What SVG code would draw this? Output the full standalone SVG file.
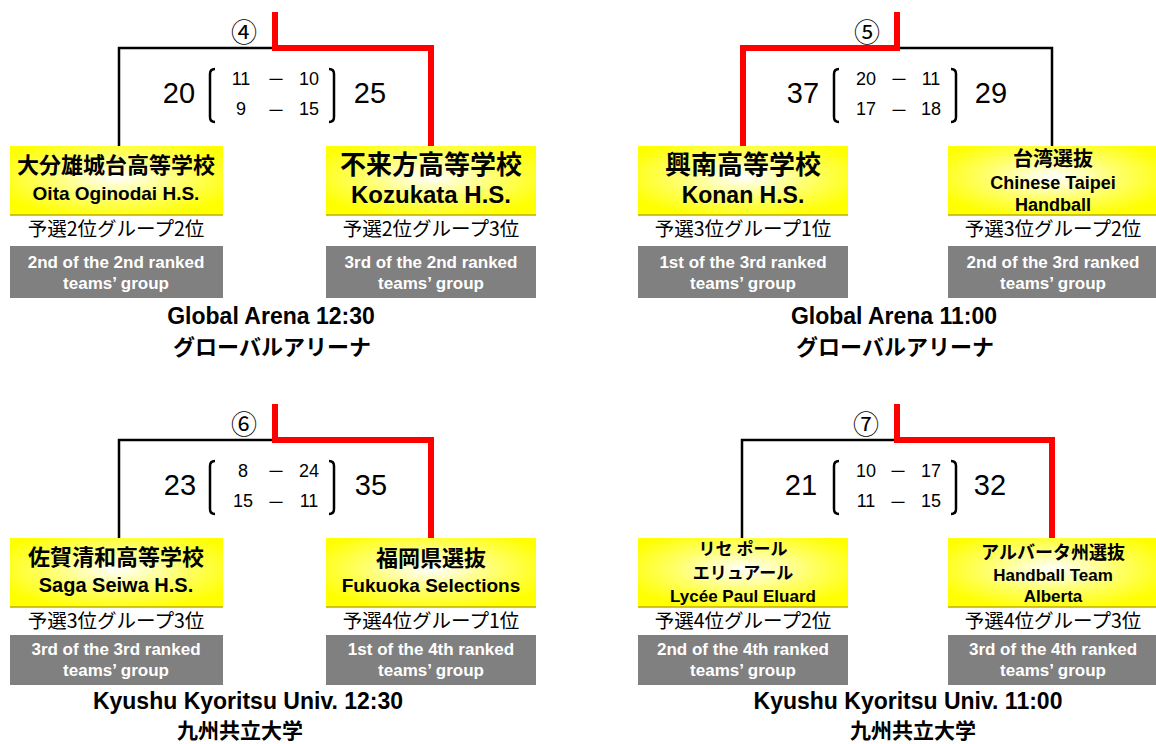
<svg xmlns="http://www.w3.org/2000/svg" width="1156" height="744" viewBox="0 0 1156 744">
<defs>
<radialGradient id="yg" cx="0.5" cy="0.45" r="0.6">
<stop offset="0" stop-color="#ffffff"/>
<stop offset="0.55" stop-color="#ffff66"/>
<stop offset="1" stop-color="#ffff00"/>
</radialGradient>
<style>
.yb{fill:url(#yg)}
.yl{stroke:#bfae00;stroke-width:1.5}
.gb{fill:#808080}
.jp{font-family:"Noto Sans CJK JP",sans-serif;font-weight:bold;text-anchor:middle;fill:#000}
.en{font-family:"Liberation Sans","Noto Sans CJK JP",sans-serif;font-weight:bold;text-anchor:middle;fill:#000}
.rk{font-family:"Noto Sans CJK JP",sans-serif;font-size:19.5px;text-anchor:middle;fill:#000}
.gt{font-family:"Liberation Sans",sans-serif;font-weight:bold;font-size:17px;fill:#fff;text-anchor:middle}
.bk{stroke:#000;stroke-width:2.5;fill:none}
.rd{stroke:#ff0000;stroke-width:6;fill:none}
.br{stroke:#000;stroke-width:2.5;fill:none}
.big{font-family:"Liberation Sans",sans-serif;font-size:29px;text-anchor:middle;fill:#000}
.sm{font-family:"Liberation Sans",sans-serif;font-size:18px;text-anchor:middle;fill:#000}
.ds{font-family:"Noto Sans CJK JP",sans-serif;font-size:18px;text-anchor:middle;fill:#000}
.cn{font-family:"Noto Sans CJK JP",sans-serif;font-size:26px;text-anchor:middle;fill:#000}
.vn{text-anchor:middle;fill:#000;font-weight:bold}
.v1{font-family:"Liberation Sans","Noto Sans CJK JP",sans-serif;font-size:23px}
.v2{font-family:"Noto Sans CJK JP",sans-serif;font-size:22px}
.v3{font-family:"Noto Sans CJK JP",sans-serif;font-size:21px}
</style>
</defs>
<rect width="1156" height="744" fill="#fff"/>

<g id="connectors">
<path class="bk" d="M119,146 V48 H273"/>
<path class="rd" d="M275,12 V48 H431 V146"/>
<path class="bk" d="M899,48 H1052 V146"/>
<path class="rd" d="M897,12 V48 H743 V146"/>
<path class="bk" d="M119,538 V440 H273"/>
<path class="rd" d="M275,404 V440 H431 V538"/>
<path class="bk" d="M742,538 V440 H895"/>
<path class="rd" d="M897,404 V440 H1052 V538"/>
</g>

<g id="match4">
<text class="cn" x="244" y="42">④</text>
<text class="big" x="179" y="103">20</text>
<path class="br" d="M215,69 Q210,69 210,74 V117 Q210,122 215,122"/>
<text class="sm" x="241" y="85">11</text><text class="ds" x="276" y="86">－</text><text class="sm" x="309" y="85">10</text>
<text class="sm" x="241" y="115">9</text><text class="ds" x="276" y="117">－</text><text class="sm" x="309" y="115">15</text>
<path class="br" d="M329,69 Q334,69 334,74 V117 Q334,122 329,122"/>
<text class="big" x="370" y="103">25</text>
</g>

<g id="match5">
<text class="cn" x="867" y="42">⑤</text>
<text class="big" x="803" y="103">37</text>
<path class="br" d="M839,69 Q834,69 834,74 V117 Q834,122 839,122"/>
<text class="sm" x="866" y="85">20</text><text class="ds" x="899" y="86">－</text><text class="sm" x="931" y="85">11</text>
<text class="sm" x="866" y="115">17</text><text class="ds" x="899" y="117">－</text><text class="sm" x="931" y="115">18</text>
<path class="br" d="M951,69 Q956,69 956,74 V117 Q956,122 951,122"/>
<text class="big" x="991" y="103">29</text>
</g>

<g id="match6">
<text class="cn" x="244" y="434">⑥</text>
<text class="big" x="180" y="495">23</text>
<path class="br" d="M215,461 Q210,461 210,466 V509 Q210,514 215,514"/>
<text class="sm" x="243" y="477">8</text><text class="ds" x="276" y="478">－</text><text class="sm" x="309" y="477">24</text>
<text class="sm" x="243" y="507">15</text><text class="ds" x="276" y="509">－</text><text class="sm" x="309" y="507">11</text>
<path class="br" d="M329,461 Q334,461 334,466 V509 Q334,514 329,514"/>
<text class="big" x="371" y="495">35</text>
</g>

<g id="match7">
<text class="cn" x="866" y="434">⑦</text>
<text class="big" x="801" y="495">21</text>
<path class="br" d="M839,461 Q834,461 834,466 V509 Q834,514 839,514"/>
<text class="sm" x="866" y="477">10</text><text class="ds" x="898" y="478">－</text><text class="sm" x="931" y="477">17</text>
<text class="sm" x="866" y="507">11</text><text class="ds" x="898" y="509">－</text><text class="sm" x="931" y="507">15</text>
<path class="br" d="M951,461 Q956,461 956,466 V509 Q956,514 951,514"/>
<text class="big" x="990" y="495">32</text>
</g>

<g id="team-oita">
<rect class="yb" x="10" y="146" width="213" height="69"/>
<line class="yl" x1="10" y1="215" x2="223" y2="215"/>
<text class="jp" x="116" y="173" font-size="22">大分雄城台高等学校</text>
<text class="en" x="116" y="200" font-size="19">Oita Oginodai H.S.</text>
<text class="rk" x="116" y="236">予選2位グループ2位</text>
<rect class="gb" x="10" y="246" width="213" height="52"/>
<text class="gt" x="116" y="268">2nd of the 2nd ranked</text>
<text class="gt" x="116" y="289">teams’ group</text>
</g>

<g id="team-kozukata">
<rect class="yb" x="326" y="146" width="210" height="69"/>
<line class="yl" x1="326" y1="215" x2="536" y2="215"/>
<text class="jp" x="431" y="174" font-size="26">不来方高等学校</text>
<text class="en" x="431" y="203" font-size="24">Kozukata H.S.</text>
<text class="rk" x="431" y="236">予選2位グループ3位</text>
<rect class="gb" x="326" y="246" width="210" height="52"/>
<text class="gt" x="431" y="268">3rd of the 2nd ranked</text>
<text class="gt" x="431" y="289">teams’ group</text>
</g>

<g id="team-konan">
<rect class="yb" x="638" y="146" width="210" height="69"/>
<line class="yl" x1="638" y1="215" x2="848" y2="215"/>
<text class="jp" x="743" y="174" font-size="26">興南高等学校</text>
<text class="en" x="743" y="203" font-size="23">Konan H.S.</text>
<text class="rk" x="743" y="236">予選3位グループ1位</text>
<rect class="gb" x="638" y="246" width="210" height="52"/>
<text class="gt" x="743" y="268">1st of the 3rd ranked</text>
<text class="gt" x="743" y="289">teams’ group</text>
</g>

<g id="team-taipei">
<rect class="yb" x="948" y="146" width="208" height="69"/>
<line class="yl" x1="948" y1="215" x2="1156" y2="215"/>
<text class="jp" x="1053" y="166" font-size="20">台湾選抜</text>
<text class="en" x="1053" y="189" font-size="18">Chinese Taipei</text>
<text class="en" x="1053" y="211" font-size="18">Handball</text>
<text class="rk" x="1053" y="236">予選3位グループ2位</text>
<rect class="gb" x="948" y="246" width="208" height="52"/>
<text class="gt" x="1053" y="268">2nd of the 3rd ranked</text>
<text class="gt" x="1053" y="289">teams’ group</text>
</g>

<g id="team-saga">
<rect class="yb" x="10" y="538" width="213" height="69"/>
<line class="yl" x1="10" y1="607" x2="223" y2="607"/>
<text class="jp" x="116" y="565" font-size="22">佐賀清和高等学校</text>
<text class="en" x="116" y="592" font-size="20">Saga Seiwa H.S.</text>
<text class="rk" x="116" y="628">予選3位グループ3位</text>
<rect class="gb" x="10" y="635" width="213" height="50"/>
<text class="gt" x="116" y="655">3rd of the 3rd ranked</text>
<text class="gt" x="116" y="676">teams’ group</text>
</g>

<g id="team-fukuoka">
<rect class="yb" x="326" y="538" width="210" height="69"/>
<line class="yl" x1="326" y1="607" x2="536" y2="607"/>
<text class="jp" x="431" y="566" font-size="22">福岡県選抜</text>
<text class="en" x="431" y="592" font-size="19">Fukuoka Selections</text>
<text class="rk" x="431" y="628">予選4位グループ1位</text>
<rect class="gb" x="326" y="635" width="210" height="50"/>
<text class="gt" x="431" y="655">1st of the 4th ranked</text>
<text class="gt" x="431" y="676">teams’ group</text>
</g>

<g id="team-eluard">
<rect class="yb" x="638" y="538" width="210" height="69"/>
<line class="yl" x1="638" y1="607" x2="848" y2="607"/>
<text class="jp" x="743" y="555" font-size="17">リセ ポール</text>
<text class="jp" x="743" y="579" font-size="17">エリュアール</text>
<text class="en" x="743" y="602" font-size="17">Lycée Paul Eluard</text>
<text class="rk" x="743" y="628">予選4位グループ2位</text>
<rect class="gb" x="638" y="635" width="210" height="50"/>
<text class="gt" x="743" y="655">2nd of the 4th ranked</text>
<text class="gt" x="743" y="676">teams’ group</text>
</g>

<g id="team-alberta">
<rect class="yb" x="948" y="538" width="208" height="69"/>
<line class="yl" x1="948" y1="607" x2="1156" y2="607"/>
<text class="jp" x="1053" y="559" font-size="18">アルバータ州選抜</text>
<text class="en" x="1053" y="581" font-size="17">Handball Team</text>
<text class="en" x="1053" y="602" font-size="17">Alberta</text>
<text class="rk" x="1053" y="628">予選4位グループ3位</text>
<rect class="gb" x="948" y="635" width="208" height="50"/>
<text class="gt" x="1053" y="655">3rd of the 4th ranked</text>
<text class="gt" x="1053" y="676">teams’ group</text>
</g>

<g id="venue4">
<text class="vn"><tspan class="v1" x="271" y="324">Global Arena 12:30</tspan><tspan class="v2" x="272" y="355">グローバルアリーナ</tspan></text>
</g>
<g id="venue5">
<text class="vn"><tspan class="v1" x="894" y="324">Global Arena 11:00</tspan><tspan class="v2" x="895" y="355">グローバルアリーナ</tspan></text>
</g>
<g id="venue6">
<text class="vn"><tspan class="v1" x="248" y="709">Kyushu Kyoritsu Univ. 12:30</tspan><tspan class="v3" x="240" y="738">九州共立大学</tspan></text>
</g>
<g id="venue7">
<text class="vn"><tspan class="v1" x="908" y="709">Kyushu Kyoritsu Univ. 11:00</tspan><tspan class="v3" x="913" y="738">九州共立大学</tspan></text>
</g>
</svg>
